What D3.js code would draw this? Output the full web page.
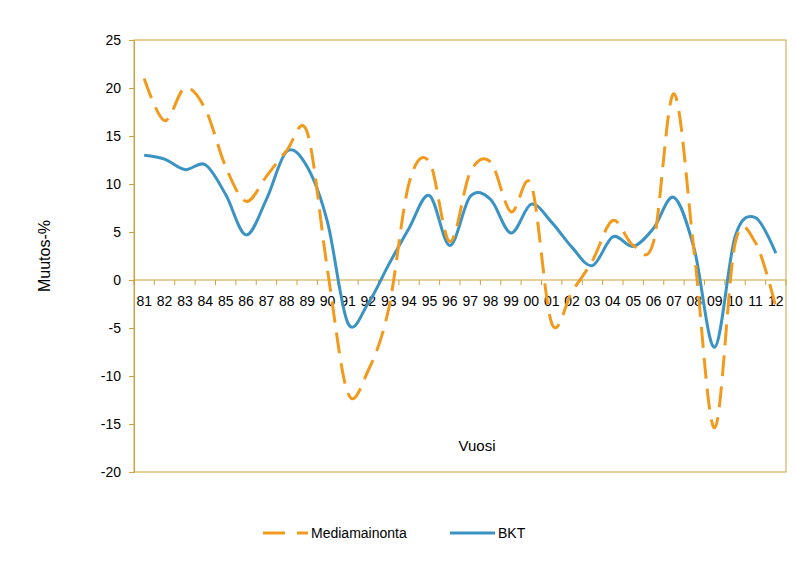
<!DOCTYPE html>
<html>
<head>
<meta charset="utf-8">
<script src="https://cdn.jsdelivr.net/npm/d3@7"></script>
<style>
  html, body { margin: 0; padding: 0; background: #fff; }
  svg { display: block; font-family: "Liberation Sans", Arial, sans-serif; }
</style>
</head>
<body>
<svg id="chart" width="796" height="563"></svg>
<script>
const categories = ["81","82","83","84","85","86","87","88","89","90","91","92","93","94","95","96","97","98","99","00","01","02","03","04","05","06","07","08","09","10","11","12"];
const mediamainonta = [21.0, 16.6, 20.0, 17.8, 11.8, 8.2, 10.8, 13.5, 15.4, 1.0, -11.8, -9.4, -3.0, 10.1, 12.3, 4.0, 11.2, 12.3, 7.1, 9.9, -4.5, -1.2, 2.0, 6.2, 3.6, 4.0, 19.4, 2.8, -15.4, 3.8, 3.9, -2.8];
const bkt = [13.0, 12.6, 11.5, 12.0, 8.9, 4.7, 8.4, 13.4, 11.8, 6.0, -4.5, -2.4, 1.6, 5.4, 8.8, 3.6, 8.7, 8.4, 4.9, 7.9, 6.0, 3.4, 1.5, 4.5, 3.5, 5.4, 8.6, 3.2, -7.0, 4.5, 6.5, 2.8];
const yTicks = [-20, -15, -10, -5, 0, 5, 10, 15, 20, 25];
const seriesNames = ["Mediamainonta", "BKT"];

const gold = "#CDA33C";
const orange = "#F29A1C";
const blue = "#3A93C3";

const svg = d3.select("#chart");
svg.append("rect").attr("width", 796).attr("height", 563).attr("fill", "#fff");

const L = 134, R = 786, T = 40, B = 472;
const x = d3.scaleBand().domain(categories).range([L, R]).padding(0);
const y = d3.scaleLinear().domain([-20, 25]).range([B, T]);
const cx = c => x(c) + x.bandwidth() / 2;

// plot border
svg.append("rect").attr("x", L).attr("y", T).attr("width", R - L).attr("height", B - T)
  .attr("fill", "none").attr("stroke", gold).attr("stroke-width", 1);

// y axis
const yAxis = d3.axisLeft(y).tickValues(yTicks).tickSize(5).tickPadding(8).tickFormat(d => String(d));
const gy = svg.append("g").attr("transform", `translate(${L},0)`).call(yAxis);
gy.select(".domain").attr("stroke", gold);
gy.selectAll(".tick line").attr("stroke", gold);
gy.selectAll(".tick text").attr("font-size", 14).attr("fill", "#000")
  .attr("font-family", "Liberation Sans, Arial, sans-serif");

// x axis at zero, ticks between categories
const gx = svg.append("g").attr("transform", `translate(0,${y(0)})`);
gx.append("line").attr("x1", L).attr("x2", R).attr("stroke", gold);
const boundaries = categories.map(c => x(c)).concat([R]);
gx.selectAll("line.tk").data(boundaries).enter().append("line").attr("class", "tk")
  .attr("x1", d => d).attr("x2", d => d).attr("y1", 0).attr("y2", 5).attr("stroke", gold);
gx.selectAll("text").data(categories).enter().append("text")
  .attr("x", d => cx(d)).attr("y", 26).attr("text-anchor", "middle")
  .attr("font-size", 14).attr("fill", "#000").text(d => d);

// lines
const line = d3.line().x((d, i) => cx(categories[i])).y(d => y(d)).curve(d3.curveCardinal.tension(0));
svg.append("path").datum(bkt).attr("d", line).attr("fill", "none")
  .attr("stroke", blue).attr("stroke-width", 3);
svg.append("path").datum(mediamainonta).attr("d", line).attr("fill", "none")
  .attr("stroke", orange).attr("stroke-width", 3).attr("stroke-dasharray", "21,10");

// titles
svg.append("text").attr("x", 477).attr("y", 451).attr("text-anchor", "middle")
  .attr("font-size", 15).attr("fill", "#000").text("Vuosi");
svg.append("text").attr("transform", "translate(50,256) rotate(-90)").attr("text-anchor", "middle")
  .attr("font-size", 16).attr("fill", "#000").text("Muutos-%");

// legend
const lg = svg.append("g");
lg.append("line").attr("x1", 263).attr("x2", 308).attr("y1", 533).attr("y2", 533)
  .attr("stroke", orange).attr("stroke-width", 3).attr("stroke-dasharray", "22,12");
lg.append("text").attr("x", 311).attr("y", 538).attr("font-size", 14).text(seriesNames[0]);
lg.append("line").attr("x1", 450).attr("x2", 495).attr("y1", 533).attr("y2", 533)
  .attr("stroke", blue).attr("stroke-width", 3);
lg.append("text").attr("x", 498).attr("y", 538).attr("font-size", 14).text(seriesNames[1]);
</script>
</body>
</html>
